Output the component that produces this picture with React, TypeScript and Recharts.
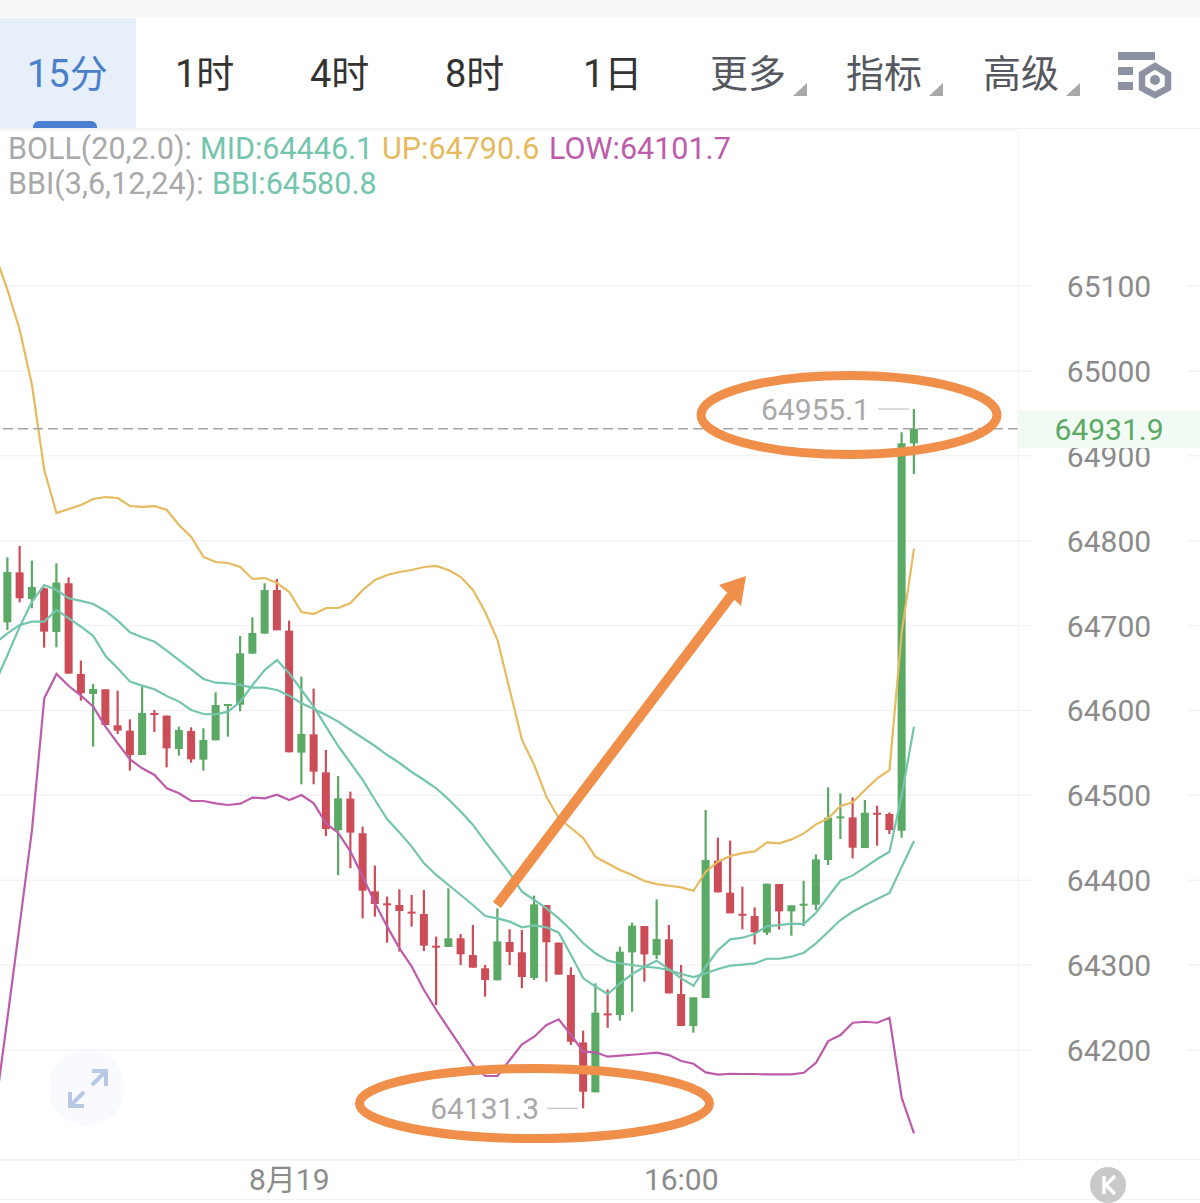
import { Bar, CartesianGrid, ComposedChart, Line, ReferenceDot, ReferenceLine, XAxis, YAxis } from "recharts";

const FONT = "Roboto, 'Noto Sans CJK SC', sans-serif";
const GREEN = "#5aa964";
const RED = "#cc4c57";
const TEAL = "#74c5ad";
const YELLOW = "#e6ba5e";
const PURPLE = "#bd5cab";
const ORANGE = "#ef8f4a";

const periods = ["1时", "4时", "8时", "1日"];
const menus = ["更多", "指标", "高级"];
const priceTicks = [64200, 64300, 64400, 64500, 64600, 64700, 64800, 64900, 65000, 65100];
const timeTicks = [23, 55];
const timeLabels = ["8月19", "16:00"];
const lastPrice = 64931.9;
const highestPrice = 64955.1;
const lowestPrice = 64131.3;

const opens = [
  64703.8, 64762.7, 64731.3, 64743.9, 64692.4, 64749.8, 64643, 64619.4, 64624.9, 64582.5,
  64576.2, 64547.5, 64597, 64593.9, 64554.6, 64575.8, 64542, 64564.8, 64606.4, 64606.8,
  64666.9, 64690.5, 64741.9, 64694, 64550.3, 64571.9, 64527.1, 64459.2, 64496.1, 64455.3,
  64386.9, 64372.8, 64370.8, 64363, 64360.2, 64322.9, 64321.4, 64331.6, 64311.9, 64296.2,
  64282.1, 64327.2, 64315.1, 64284.8, 64370.8, 64326.5, 64288.4, 64209, 64150.1, 64243.1,
  64241.2, 64315, 64346, 64311.8, 64330.3, 64265.9, 64228.2, 64261.2, 64423, 64385.3,
  64360.5, 64357.8, 64338.2, 64395.5, 64363.3, 64370.8, 64371.2, 64423.8, 64473.3, 64474,
  64437.9, 64479.5, 64478, 64458.3, 64914.7,
];
const closes = [
  64763.1, 64732.1, 64745.4, 64692.8, 64750.6, 64643.4, 64620.2, 64625.3, 64582.9, 64576.2,
  64547.5, 64597, 64595.4, 64555.4, 64577, 64542.4, 64565.2, 64606.4, 64607.6, 64667.3,
  64691.3, 64741.9, 64694.4, 64550.7, 64572.3, 64527.9, 64460.3, 64496.5, 64456.1, 64387.7,
  64372, 64371.2, 64363.8, 64361.4, 64322.9, 64321.7, 64331.6, 64312.7, 64297, 64282.5,
  64328, 64315.5, 64286, 64371.6, 64326.9, 64288.8, 64209.8, 64150.9, 64244, 64241.6,
  64315.8, 64346.4, 64312.6, 64330.7, 64266.7, 64228.2, 64262, 64423.8, 64385.7, 64361,
  64358.6, 64338.6, 64395.9, 64363.3, 64370.4, 64372.3, 64424.6, 64473.6, 64475.2, 64438.3,
  64479.5, 64478, 64459.1, 64914.7, 64931.9,
];
const highs = [
  64780.4, 64793.8, 64776.5, 64745, 64773.3, 64756.8, 64658.7, 64631.2, 64624.9, 64623.3,
  64589.5, 64628, 64600.5, 64593.9, 64580.9, 64580.1, 64579, 64621.4, 64607.6, 64687.7,
  64709.7, 64749.8, 64754.9, 64705.8, 64639.8, 64625.7, 64553.4, 64522.8, 64504.4, 64463.1,
  64417.2, 64380.7, 64389.3, 64382.6, 64388.5, 64333.5, 64390.5, 64336.7, 64347.3, 64300.2,
  64366.9, 64342.2, 64341.4, 64381.8, 64370.8, 64326.5, 64297.4, 64222.8, 64278.6, 64271.5,
  64321.7, 64350, 64346, 64377.4, 64347.2, 64300.1, 64262, 64482.7, 64450.1, 64446.6,
  64392.4, 64368, 64395.9, 64395.5, 64370.4, 64399.4, 64430.4, 64509.4, 64502.3, 64497.6,
  64494.5, 64487.8, 64479.9, 64927.7, 64955.1,
];
const lows = [
  64694.8, 64727.4, 64720.3, 64674, 64674.4, 64643.4, 64611.5, 64557.3, 64582.9, 64572.3,
  64529.1, 64547.5, 64574.6, 64533, 64546.7, 64538.5, 64529.1, 64564.8, 64569.1, 64599,
  64666.9, 64690.5, 64694.4, 64550.7, 64513, 64513, 64452, 64405.8, 64414, 64355.1,
  64357.1, 64326.5, 64315.9, 64345.3, 64316.6, 64253, 64321.4, 64300.2, 64297, 64262.8,
  64282.1, 64300.2, 64272.7, 64282.5, 64280.5, 64288.8, 64205.9, 64131.3, 64150.1, 64226.2,
  64234.5, 64245.1, 64280.4, 64307.1, 64266.7, 64228.2, 64220.4, 64261.2, 64385.7, 64361,
  64342.1, 64324.4, 64335.4, 64342.1, 64334.6, 64346, 64364.9, 64417.9, 64448.5, 64425.7,
  64437.9, 64440.7, 64454.4, 64450.1, 64878.5,
];

// first entry of each line belongs to the bar just off the left edge
const bollMid = [
  64632.7, 64665.3, 64698.7, 64728.2, 64747.8, 64741.9, 64732.1, 64729, 64725.4, 64717.2,
  64705.8, 64692, 64686.2, 64681, 64670.4, 64659.4, 64648.4, 64637.1, 64632.7, 64632,
  64630, 64626.9, 64626.9, 64624.1, 64617.4, 64608.4, 64601.7, 64594.7, 64586.8, 64577,
  64567.5, 64558.1, 64547.5, 64538.1, 64527.5, 64518.1, 64508.3, 64495.3, 64480.8, 64465.1,
  64445.5, 64427, 64408.2, 64386.5, 64376.7, 64366.9, 64355.1, 64341.4, 64325.7, 64313.9,
  64305.2, 64302, 64300.1, 64298.1, 64296.9, 64294.2, 64289.5, 64285.9, 64290.3, 64295.4,
  64299.3, 64300.5, 64302, 64307.5, 64307.5, 64309.9, 64314.6, 64325.6, 64339.3, 64353.1,
  64362.9, 64370.8, 64377.8, 64384.9, 64415.9, 64446.1,
];
const bollUp = [
  65136.5, 65095.3, 65048.2, 64983.4, 64883.2, 64832.6, 64837.3, 64842, 64849.1, 64851.4,
  64850.3, 64840.8, 64839.7, 64840.8, 64836.1, 64818.5, 64804.3, 64780.8, 64774.9, 64773.7,
  64769, 64754.9, 64756, 64750.1, 64739.5, 64716, 64713.6, 64720.7, 64720.7, 64726.6,
  64741.9, 64753.7, 64759.6, 64763.1, 64765.4, 64769, 64770.2, 64765.4, 64757.2, 64741.9,
  64716, 64683, 64624.1, 64565.2, 64535.7, 64498, 64473.3, 64461.5, 64449.7, 64427.4,
  64419.8, 64412, 64406.1, 64399, 64395.5, 64393.5, 64391.6, 64387.6, 64410, 64421.8,
  64428.5, 64432, 64434, 64444.6, 64443.4, 64448.1, 64455.2, 64465.8, 64472.9, 64487.4,
  64491.7, 64506.2, 64520, 64529.8, 64692.4, 64790.6,
];
const bollLow = [
  64130, 64238, 64348.4, 64459.2, 64614.3, 64643, 64628.8, 64617.4, 64604.5, 64580.9,
  64561.3, 64542.4, 64531.8, 64524, 64508.3, 64502.4, 64493.3, 64493.3, 64490.6, 64488.6,
  64490.2, 64497.3, 64496.5, 64500.8, 64494.5, 64500.4, 64490.6, 64467, 64455.7, 64433.7,
  64404.2, 64372.8, 64345.3, 64319.8, 64298.2, 64270.7, 64247.1, 64225.5, 64203.9, 64182.3,
  64169.4, 64169.4, 64188.2, 64206.7, 64215.7, 64229.5, 64236.1, 64217.7, 64198.1, 64197.3,
  64192.1, 64193.3, 64194.4, 64195.6, 64196.8, 64194, 64187, 64183.8, 64173.6, 64170.9,
  64172, 64171.7, 64171.7, 64171.3, 64171.3, 64171.3, 64173.2, 64185, 64210.5, 64217.6,
  64232.1, 64233.3, 64232.1, 64238, 64143.5, 64101.7,
];
const bbi = [
  64679.1, 64690.9, 64700.7, 64704.6, 64704.6, 64718.4, 64708.5, 64698.7, 64687.7, 64664.2,
  64649.6, 64633.9, 64629.2, 64624.9, 64617, 64610.4, 64600.5, 64595.8, 64595.4, 64598.6,
  64610.4, 64630, 64647.7, 64659.4, 64643.7, 64624.1, 64604.5, 64580.9, 64558.1, 64538.1,
  64518.1, 64494.5, 64471.8, 64456.1, 64439.6, 64419.9, 64406.2, 64394.4, 64382.6, 64370.8,
  64357.9, 64355.1, 64351.2, 64344.5, 64346.9, 64344.5, 64338.2, 64312, 64284.4, 64274.6,
  64265.9, 64278.5, 64289.5, 64298.1, 64305.2, 64295, 64284.4, 64275.7, 64298.1, 64317.7,
  64330.3, 64332.3, 64336.6, 64346, 64347.2, 64348.8, 64348.4, 64361.7, 64380.6, 64399.4,
  64405.7, 64415.1, 64425, 64433.6, 64500.3, 64580.8,
];

const rows = bollMid.map((mid, k) => {
  const c = k - 1;
  return {
    index: c,
    mid,
    up: bollUp[k],
    low: bollLow[k],
    bbi: bbi[k],
    range: c >= 0 ? [lows[c], highs[c]] : null,
    open: c >= 0 ? opens[c] : null,
    close: c >= 0 ? closes[c] : null,
    high: c >= 0 ? highs[c] : null,
    lowest: c >= 0 ? lows[c] : null,
  };
});

function Candle(props: any) {
  const { x, y, width, height, payload } = props;
  if (payload.open == null || height == null) return null;
  const cx = x + width / 2;
  const perUnit = height / (payload.high - payload.lowest);
  const color = payload.close >= payload.open ? GREEN : RED;
  const bodyTop = y + (payload.high - Math.max(payload.open, payload.close)) * perUnit;
  const bodyHeight = Math.max(Math.abs(payload.open - payload.close) * perUnit, 2);
  return (
    <g>
      <line x1={cx} x2={cx} y1={y} y2={y + height} stroke={color} strokeWidth={2.2} />
      <rect x={cx - 4} y={bodyTop} width={8} height={bodyHeight} fill={color} />
    </g>
  );
}

function PriceTick(props: any) {
  const { y, payload } = props;
  return (
    <g>
      <line x1={1018} x2={1032} y1={y} y2={y} stroke="#f3f3f3" strokeWidth={1.5} />
      <line x1={1188} x2={1200} y1={y} y2={y} stroke="#f3f3f3" strokeWidth={1.5} />
      <text x={1109} y={y + 11} textAnchor="middle" fontSize={30} fontFamily={FONT} fill="#8b8b8b">
        {payload.value}
      </text>
    </g>
  );
}

function TimeTick(props: any) {
  const { x, y, payload } = props;
  return (
    <text x={x} y={y + 22} textAnchor="middle" fontSize={30} fontFamily={FONT} fill="#8b8b8b">
      {timeLabels[timeTicks.indexOf(payload.value)]}
    </text>
  );
}

function ExtremeTag(props: any) {
  const { cx, cy, value } = props;
  return (
    <g>
      <line x1={cx - 36} x2={cx - 5} y1={cy} y2={cy} stroke="#c4c4c4" strokeWidth={1.2} />
      <text x={cx - 44} y={cy + 11} textAnchor="end" fontSize={30} fontFamily={FONT} fill="#a9a9a9">
        {value}
      </text>
    </g>
  );
}

function Toolbar() {
  const label = { position: "absolute", top: 48, fontSize: 38, lineHeight: "52px", whiteSpace: "nowrap" } as const;
  const periodX = [175, 310, 445, 583];
  const menuX = [710, 846, 983];
  return (
    <>
      <div style={{ position: "absolute", left: 0, top: 0, width: 1200, height: 17, background: "#f6f7f9" }} />
      <div style={{ position: "absolute", left: 0, top: 18, width: 136, height: 110, background: "#e7effb" }} />
      <div style={{ position: "absolute", left: 33, top: 121, width: 64, height: 7, background: "#4a7fd3", borderRadius: "6px 6px 0 0" }} />
      <div style={{ ...label, left: 27, color: "#4a80c9" }}>15分</div>
      {periods.map((p, i) => (
        <div key={p} style={{ ...label, left: periodX[i], color: "#333" }}>{p}</div>
      ))}
      {menus.map((m, i) => (
        <div key={m} style={{ ...label, left: menuX[i], color: "#55585e" }}>{m}</div>
      ))}
      <svg style={{ position: "absolute", left: 0, top: 0 }} width={1200} height={130}>
        {menuX.map((x) => (
          <polygon key={x} points={`${x + 83},96 ${x + 97},96 ${x + 97},83`} fill="#a8a8a8" />
        ))}
        <g fill="#8d92a3">
          <rect x={1118} y={52} width={37} height={8} />
          <rect x={1118} y={67} width={15} height={8} />
          <rect x={1118} y={82} width={15} height={8} />
        </g>
        <polygon points="1155,66 1168,74 1168,88 1155,95 1142,88 1142,74" fill="none" stroke="#8d92a3" strokeWidth={6.5} />
        <circle cx={1155} cy={80} r={5} fill="#8d92a3" />
        <line x1={0} x2={1200} y1={128.5} y2={128.5} stroke="#f2f2f2" />
      </svg>
    </>
  );
}

function Legend() {
  const row = { position: "absolute", fontSize: 30.5, lineHeight: "36px", whiteSpace: "nowrap" } as const;
  return (
    <>
      <div style={{ ...row, left: 8, top: 131, color: "#a9a9a9" }}>BOLL(20,2.0):</div>
      <div style={{ ...row, left: 200, top: 131, color: TEAL }}>MID:64446.1</div>
      <div style={{ ...row, left: 382, top: 131, color: YELLOW }}>UP:64790.6</div>
      <div style={{ ...row, left: 549, top: 131, color: PURPLE }}>LOW:64101.7</div>
      <div style={{ ...row, left: 8, top: 166, color: "#a9a9a9" }}>BBI(3,6,12,24):</div>
      <div style={{ ...row, left: 212, top: 166, color: TEAL }}>BBI:64580.8</div>
    </>
  );
}

// price tag, hand-drawn marks and the two round buttons sit on top of the chart
function Overlay() {
  return (
    <svg style={{ position: "absolute", left: 0, top: 0 }} width={1200} height={1203}>
      <rect x={1018} y={410} width={182} height={38} fill="#f1fbf3" />
      <text x={1109} y={440} textAnchor="middle" fontSize={30} fontFamily={FONT} fill={GREEN}>
        {lastPrice}
      </text>
      <ellipse cx={849} cy={415} rx={148} ry={39.5} fill="none" stroke={ORANGE} strokeWidth={9} />
      <ellipse cx={534.5} cy={1103.5} rx={175} ry={35} fill="none" stroke={ORANGE} strokeWidth={9} />
      <line x1={497} y1={905} x2={731} y2={596} stroke={ORANGE} strokeWidth={10} />
      <polygon points="746,576 719,585 741,606" fill={ORANGE} />
      <circle cx={87} cy={1088} r={38} fill="#f8fafd" />
      <g fill="none" stroke="#b9c9e5" strokeWidth={4}>
        <path d="M92 1071 L106 1071 L106 1086" />
        <path d="M105 1072 L92 1085" />
        <path d="M70 1092 L70 1106 L84 1106" />
        <path d="M71 1105 L84 1092" />
      </g>
      <line x1={0} x2={1200} y1={1159.5} y2={1159.5} stroke="#f2f2f2" />
      <line x1={0} x2={1200} y1={1199.5} y2={1199.5} stroke="#f2f2f2" />
      <circle cx={1108} cy={1185} r={18} fill="#c9c9c9" />
      <path d="M1104 1176 L1104 1194 M1115 1176 L1106 1185 L1115 1194" fill="none" stroke="#fff" strokeWidth={3.5} />
    </svg>
  );
}

export default function App() {
  return (
    <div style={{ position: "absolute", left: 0, top: 0, width: 1200, height: 1203, background: "#fff", fontFamily: FONT, overflow: "hidden" }}>
      <ComposedChart
        width={1200}
        height={1203}
        data={rows}
        margin={{ top: 130, right: 0, bottom: 0, left: 0 }}
      >
        <CartesianGrid horizontal vertical={false} stroke="#f3f3f3" strokeWidth={1.5} />
        <XAxis
          dataKey="index"
          type="number"
          domain={[-0.612, 82.49]}
          allowDataOverflow
          ticks={timeTicks}
          height={43}
          axisLine={false}
          tickLine={false}
          tick={<TimeTick />}
        />
        <YAxis
          orientation="right"
          domain={[64070.42, 65283.77]}
          allowDataOverflow
          ticks={priceTicks}
          width={182}
          axisLine={{ stroke: "#f2f2f2" }}
          tickLine={false}
          tick={<PriceTick />}
        />
        <Bar dataKey="range" barSize={8} shape={<Candle />} isAnimationActive={false} />
        <Line dataKey="up" stroke={YELLOW} strokeWidth={2.2} dot={false} isAnimationActive={false} />
        <Line dataKey="low" stroke={PURPLE} strokeWidth={2.2} dot={false} isAnimationActive={false} />
        <Line dataKey="mid" stroke={TEAL} strokeWidth={2.2} dot={false} isAnimationActive={false} />
        <Line dataKey="bbi" stroke={TEAL} strokeWidth={2.2} dot={false} isAnimationActive={false} />
        <ReferenceLine y={lastPrice} stroke="#a3a3a3" strokeWidth={1.6} strokeDasharray="10 5" />
        <ReferenceDot x={74} y={highestPrice} r={0} shape={<ExtremeTag value={highestPrice} />} />
        <ReferenceDot x={47} y={lowestPrice} r={0} shape={<ExtremeTag value={lowestPrice} />} />
      </ComposedChart>
      <Toolbar />
      <Legend />
      <Overlay />
    </div>
  );
}
